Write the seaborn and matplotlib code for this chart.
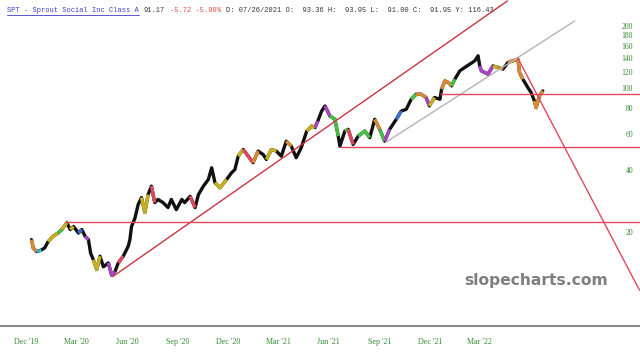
import matplotlib
matplotlib.use("Agg")
import matplotlib.pyplot as plt
from matplotlib.ticker import NullLocator
import numpy as np
import pandas as pd
import seaborn as sns

# SPT price path (approximate closes)
dates = [
    "2019-12-11", "2019-12-14", "2019-12-20", "2019-12-29", "2020-01-04", "2020-01-10",
    "2020-01-19", "2020-01-28", "2020-02-04", "2020-02-13", "2020-02-19", "2020-02-25",
    "2020-03-05", "2020-03-11", "2020-03-17", "2020-03-23", "2020-03-27", "2020-04-01",
    "2020-04-07", "2020-04-13", "2020-04-19", "2020-04-28", "2020-05-04", "2020-05-10",
    "2020-05-16", "2020-05-25", "2020-06-03", "2020-06-06", "2020-06-09", "2020-06-15",
    "2020-06-21", "2020-06-27", "2020-07-03", "2020-07-09", "2020-07-15", "2020-07-21",
    "2020-07-27", "2020-08-05", "2020-08-14", "2020-08-20", "2020-08-29", "2020-09-08",
    "2020-09-13", "2020-09-23", "2020-10-02", "2020-10-08", "2020-10-17", "2020-10-26",
    "2020-11-01", "2020-11-07", "2020-11-16", "2020-11-28", "2020-12-07", "2020-12-13",
    "2020-12-19", "2020-12-28", "2021-01-06", "2021-01-15", "2021-01-24", "2021-02-02",
    "2021-02-08", "2021-02-17", "2021-02-26", "2021-03-07", "2021-03-16", "2021-03-25",
    "2021-04-03", "2021-04-12", "2021-04-22", "2021-05-01", "2021-05-07", "2021-05-12",
    "2021-05-19", "2021-05-25", "2021-06-03", "2021-06-12", "2021-06-18", "2021-06-21",
    "2021-06-30", "2021-07-06", "2021-07-15", "2021-07-24", "2021-08-05", "2021-08-14",
    "2021-08-23", "2021-09-01", "2021-09-10", "2021-09-19", "2021-10-01", "2021-10-10",
    "2021-10-19", "2021-10-28", "2021-11-06", "2021-11-15", "2021-11-24", "2021-11-30",
    "2021-12-09", "2021-12-19", "2021-12-22", "2021-12-28", "2022-01-03", "2022-01-09",
    "2022-01-15", "2022-01-24", "2022-02-02", "2022-02-11", "2022-02-20", "2022-02-26",
    "2022-03-01", "2022-03-04", "2022-03-10", "2022-03-16", "2022-03-25", "2022-04-03",
    "2022-04-12", "2022-04-21", "2022-04-30", "2022-05-09", "2022-05-12", "2022-05-18",
    "2022-05-27", "2022-06-02", "2022-06-08", "2022-06-11", "2022-06-17", "2022-06-23",
]
closes = [
    18.3, 16.7, 16.0, 16.3, 16.7, 17.9,
    19.0, 19.7, 20.5, 22.1, 20.5, 21.2,
    19.7, 20.5, 19.0, 18.3, 15.7, 14.6,
    13.1, 15.2, 13.5, 14.1, 12.3, 12.8,
    14.1, 15.2, 17.0, 18.3, 21.2, 23.2,
    27.1, 29.3, 24.8, 30.3, 33.3, 27.7,
    28.7, 27.7, 26.2, 28.7, 25.6, 28.7,
    27.7, 29.7, 26.2, 30.3, 33.3, 35.9,
    40.9, 34.6, 32.7, 35.9, 38.7, 40.1,
    46.6, 50.2, 46.6, 43.3, 49.3, 47.5,
    44.9, 50.2, 49.3, 46.6, 55.1, 52.1,
    45.8, 51.2, 61.7, 65.3, 64.1, 69.0,
    77.2, 81.7, 73.0, 70.4, 58.3, 52.1,
    61.7, 62.9, 53.1, 58.3, 61.7, 57.3,
    70.4, 62.9, 55.1, 62.9, 70.4, 77.2,
    78.7, 88.1, 93.2, 93.2, 89.8, 81.7,
    89.8, 88.1, 98.6, 108.2, 106.3, 102.3,
    110.3, 121.1, 125.8, 130.5, 135.4, 143.3,
    128.0, 121.1, 118.9, 116.7, 128.0, 125.8,
    123.4, 133.0, 135.4, 138.0, 118.9, 110.3,
    100.5, 95.0, 86.4, 80.2, 91.4, 96.7,
]
# bar colouring regime of each stretch
tone = [
    "o", "o", "c", "k", "k", "y",
    "y", "g", "y", "k", "y", "k",
    "b", "k", "m", "k", "k", "y",
    "y", "k", "k", "m", "m", "k",
    "r", "k", "k", "k", "k", "k",
    "k", "y", "y", "k", "r", "k",
    "k", "k", "k", "k", "k", "k",
    "k", "r", "k", "k", "k", "k",
    "k", "y", "y", "k", "k", "k",
    "y", "r", "r", "o", "k", "k",
    "y", "y", "k", "k", "o", "k",
    "k", "k", "y", "y", "m", "k",
    "k", "m", "g", "g", "k", "k",
    "g", "r", "k", "g", "g", "k",
    "o", "g", "m", "k", "b", "k",
    "k", "g", "o", "o", "m", "y",
    "k", "k", "o", "o", "o", "g",
    "k", "k", "k", "k", "k", "k",
    "m", "m", "m", "m", "y", "o",
    "k", "o", "o", "o", "o", "k",
    "k", "k", "o", "o", "o", "o",
]

# drawn trendlines (date, price) pairs
channel_dates = ["2020-05-06", "2022-04-20"]
channel_prices = [12.1, 264.8]
inner_dates = ["2021-09-12", "2022-08-20"]
inner_prices = [54.4, 211.7]
drop_dates = ["2022-05-09", "2022-12-15"]
drop_prices = [139.6, 10.4]
level_starts = ["2020-02-09", "2021-06-21", "2021-12-19"]
level_prices = [22.2, 51.5, 93.0]

ytick_values = [20, 40, 60, 80, 100, 120, 140, 160, 180, 200]
xtick_dates = ["2019-12-01", "2020-03-01", "2020-06-01", "2020-09-01", "2020-12-01",
               "2021-03-01", "2021-06-01", "2021-09-01", "2021-12-01", "2022-03-01"]
xtick_labels = ["Dec '19", "Mar '20", "Jun '20", "Sep '20", "Dec '20",
                "Mar '21", "Jun '21", "Sep '21", "Dec '21", "Mar '22"]

header_parts = ["SPT - Sprout Social Inc Class A", "91.17", "-5.72 -5.90%",
                "D: 07/26/2021 O:  93.36 H:  93.95 L:  91.00 C:  91.95 Y: 116.43"]

palette = {"k": "#111111", "y": "#c4b020", "g": "#44c044", "m": "#a844c0",
           "o": "#d98a36", "b": "#3a6fd0", "r": "#dc4a60", "c": "#3ab0c8"}

sns.set_style("white")
plt.rcParams["font.family"] = ["Liberation Serif", "DejaVu Serif"]

df = pd.DataFrame({"date": pd.to_datetime(dates), "close": closes, "tone": tone})

fig = plt.figure(figsize=(6.4, 3.58), dpi=100)
ax = fig.add_axes([0, 32 / 358, 1, 326 / 358])

sns.lineplot(data=df, x="date", y="close", color=palette["k"], linewidth=2.4, ax=ax)

# overlay coloured stretches
i = 0
n = len(df)
while i < n - 1:
    t = df["tone"].iloc[i]
    j = i
    while j + 1 < n - 1 and df["tone"].iloc[j + 1] == t:
        j += 1
    if t != "k":
        seg = df.iloc[i:j + 2]
        ax.plot(seg["date"], seg["close"], color=palette[t], linewidth=2.4,
                solid_capstyle="butt")
    i = j + 1

ax.set_yscale("log")
xmax = pd.Timestamp("2022-12-16")
ax.set_xlim(pd.Timestamp("2019-10-15"), xmax)
ax.set_ylim(6.96, 267.6)

line_red = "#e2485c"
ax.plot(pd.to_datetime(channel_dates), channel_prices, color="#cc3340", linewidth=1.0)
ax.plot(pd.to_datetime(inner_dates), inner_prices, color="#b4b4b4", linewidth=1.0)
ax.plot(pd.to_datetime(drop_dates), drop_prices, color=line_red, linewidth=1.0)
for start, level in zip(level_starts, level_prices):
    ax.hlines(level, pd.Timestamp(start), xmax, color=line_red, linewidth=1.0)

ax.set_xlabel("")
ax.set_ylabel("")
ax.yaxis.tick_right()
ax.set_yticks(ytick_values)
ax.set_yticklabels([str(v) for v in ytick_values])
ax.yaxis.set_minor_locator(NullLocator())
ax.tick_params(axis="y", length=0, pad=-5, labelsize=5.5, labelcolor="#2f8a2f")
for lab in ax.get_yticklabels():
    lab.set_ha("right")

ax.set_xticks(pd.to_datetime(xtick_dates))
ax.set_xticklabels(xtick_labels)
ax.tick_params(axis="x", length=0, pad=9, labelsize=5.8, labelcolor="#2f8a2f")

for side in ["top", "left", "right"]:
    ax.spines[side].set_visible(False)
ax.spines["bottom"].set_color("#8c8c8c")
ax.spines["bottom"].set_linewidth(1.5)

# header line, pieces laid out one after another
mono = ["Liberation Mono", "DejaVu Sans Mono"]
header_colors = ["#3a3acc", "#333333", "#e04848", "#333333"]
ty = 1 - 10 / 358
renderer = fig.canvas.get_renderer()
x_px = 7
for k, (part, col) in enumerate(zip(header_parts, header_colors)):
    t = fig.text(x_px / 640, ty, part, color=col, fontsize=5.0, family=mono, va="center")
    bb = t.get_window_extent(renderer=renderer)
    if k == 0:
        fig.add_artist(plt.Line2D([bb.x0 / 640, bb.x1 / 640], [1 - 14.5 / 358, 1 - 14.5 / 358],
                                  color="#3a3acc", linewidth=0.6))
    x_px = bb.x1 + 5

fig.text(536 / 640, 1 - 281 / 358, "slopecharts.com", color="#7f7f7f",
         fontsize=11.2, fontweight="bold", family=["DejaVu Sans"], ha="center", va="center")

fig.savefig("out.png", dpi=100)
